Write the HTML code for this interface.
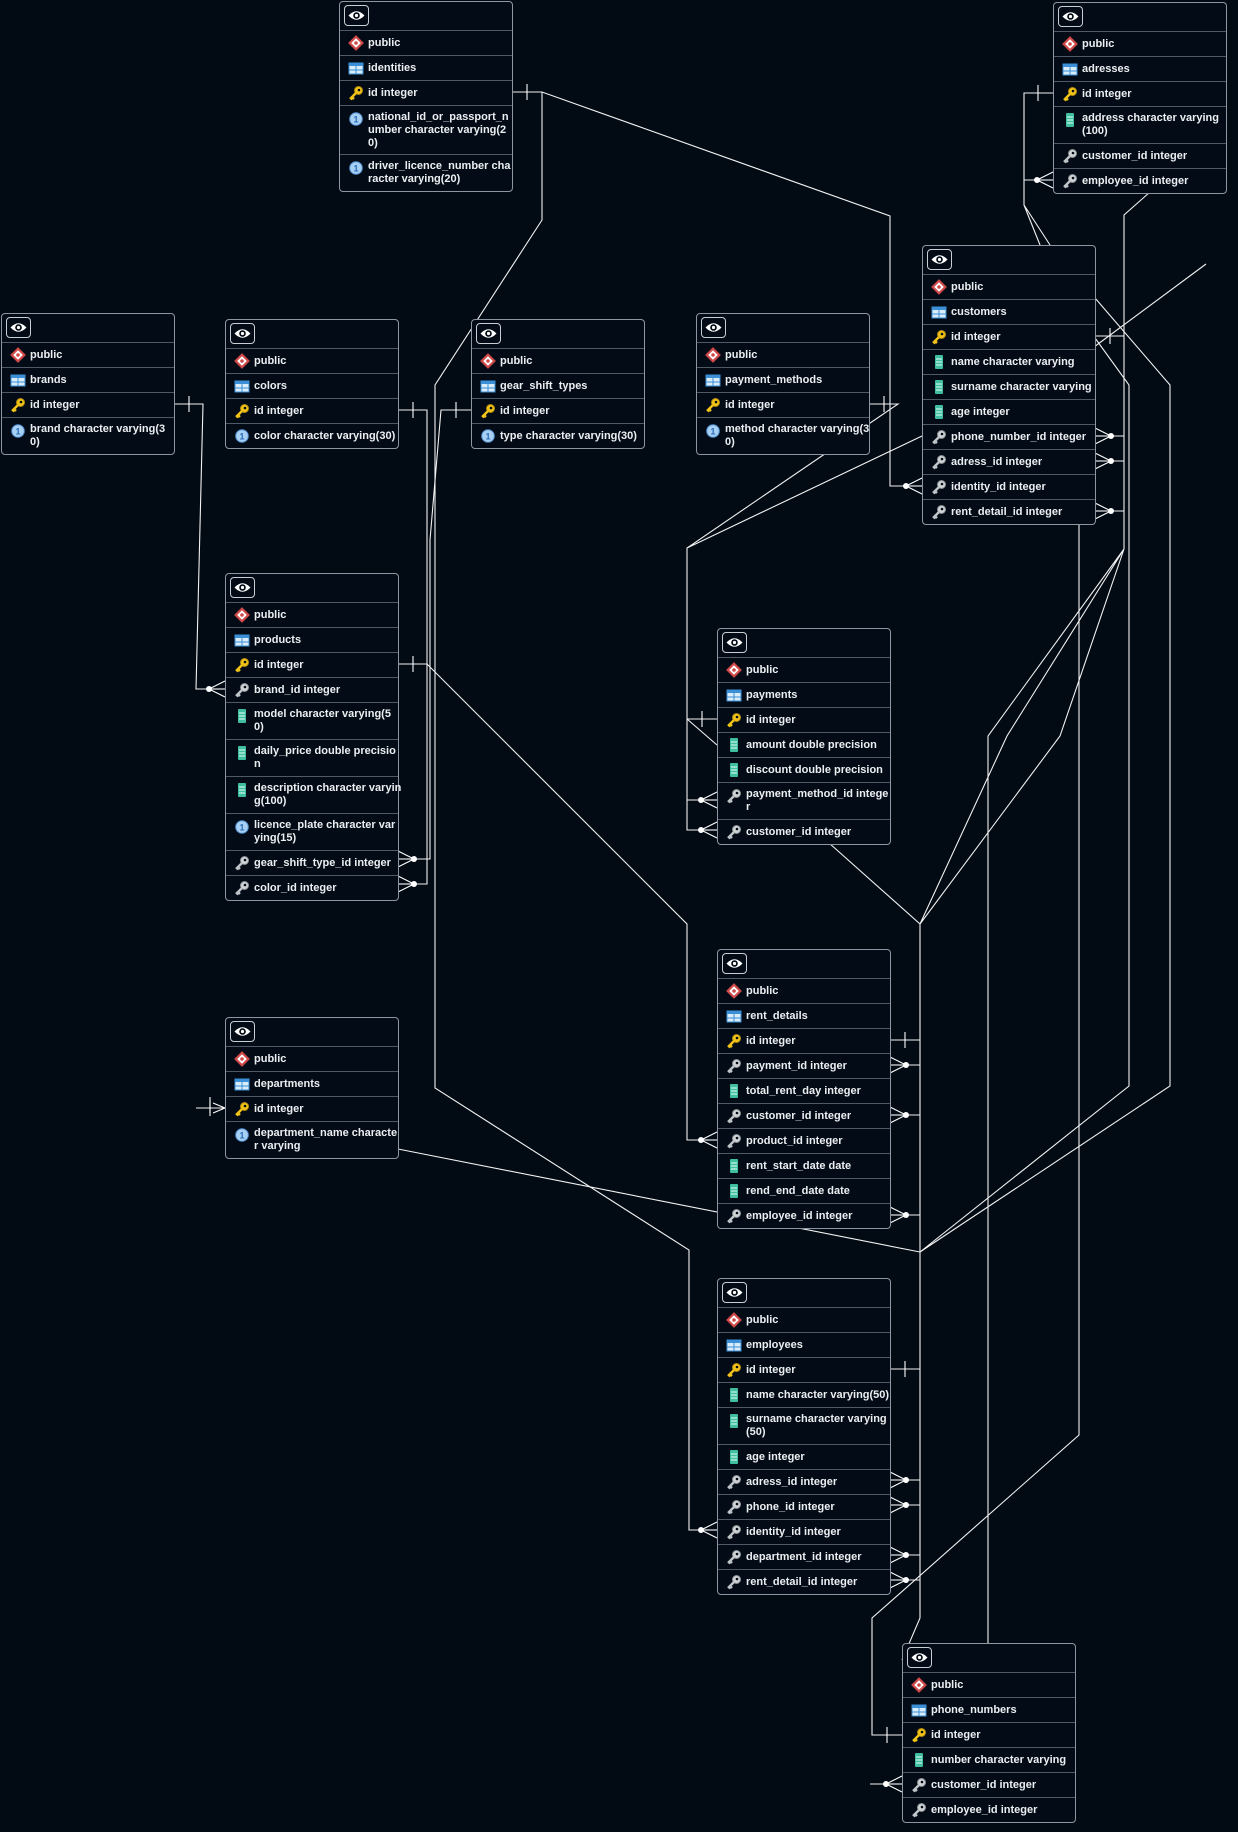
<!DOCTYPE html>
<html><head><meta charset="utf-8">
<style>
html,body{margin:0;padding:0;background:#020a13;}
body{width:1238px;height:1832px;position:relative;overflow:hidden;font-family:"Liberation Sans",Arial,sans-serif;}
svg.lines{position:absolute;left:0;top:0;}
.box{position:absolute;width:174px;box-sizing:border-box;border:1px solid #8c97a3;border-radius:4px;background:#030c16;}
.hdr{height:28px;position:relative;}
.eye{position:absolute;left:4px;top:3px;width:25px;height:21px;border:1px solid #c9ced4;border-radius:4px;box-sizing:border-box;}
.row{position:relative;border-top:1px solid #4f5a66;color:#eceff2;font-size:11px;font-weight:bold;}
.row .ic{position:absolute;left:8px;width:16px;height:16px;}
.row .tx{position:absolute;left:28px;right:4px;white-space:nowrap;}
</style></head><body>
<svg class="lines" width="1238" height="1832" viewBox="0 0 1238 1832" id="lines">
<g fill="none" stroke="#f2f2f2" stroke-width="1.1">
<path d="M512,92 H542 L890,216 V486 H922"/>
<path d="M542,92 V220 L435,385 V1088 L689,1250 V1530 H717"/>
<path d="M174,404 H203 L196,689 H225"/>
<path d="M398,410 H427 V884 H398"/>
<path d="M471,410 H441 L430,540 V859 H398"/>
<path d="M869,404 H898 L687,548 V830 H717 M687,719 H717 M687,800 H717 M687,719 L717,745 M922,436 L687,548"/>
<path d="M398,664 H427 L687,924 V1140 H717"/>
<path d="M829,843 L920,924 V1618 L902,1660 M890,1040 H920 M890,1065 H920 M890,1115 H920 M890,1215 H920 M890,1369 H920 M890,1480 H920 M890,1505 H920 M890,1555 H920 M890,1580 H920"/>
<path d="M1124,549 L988,736 V1643 M1124,549 L1007,736 L920,924 M1124,549 L1060,736 L920,924"/>
<path d="M1150,192 L1124,215 V549 M1095,336 H1124 M1095,436 H1124 M1095,461 H1124 M1095,511 H1124"/>
<path d="M1095,298 L1170,385 V1086 L920,1252 M1095,338 L1129,385 V1086 L920,1252"/>
<path d="M398,1149 L920,1252"/>
<path d="M1094,347 L1206,264"/>
<path d="M1053,93 H1024 V205 L1040,245 M1024,205 L1050,245 M1024,180 H1053"/>
<path d="M1079,524 V1435 L872,1618 V1735 H902"/>
<path d="M870,1784 H902"/>
<path d="M196,1108 H225"/>
</g>
<g id="marks" fill="#fff" stroke="#fff" stroke-width="1.1"></g>
</svg>
<div id="boxes"></div>
<script>
(function(){
var NS="http://www.w3.org/2000/svg",mk=document.getElementById('marks');
function ln(x1,y1,x2,y2){var l=document.createElementNS(NS,'line');l.setAttribute('x1',x1);l.setAttribute('y1',y1);l.setAttribute('x2',x2);l.setAttribute('y2',y2);mk.appendChild(l);}
function one(x,y,d){ln(x+d*15,y-8,x+d*15,y+8);}
function many(x,y,d){var px=x+d*16;ln(x,y-8,px,y);ln(x,y+8,px,y);ln(x,y,px,y);var c=document.createElementNS(NS,'circle');c.setAttribute('cx',px);c.setAttribute('cy',y);c.setAttribute('r',3);c.setAttribute('stroke','none');mk.appendChild(c);}
one(512,92,1);many(922,486,-1);many(717,1530,-1);one(174,404,1);many(225,689,-1);
one(398,410,1);many(398,884,1);one(471,410,-1);many(398,859,1);
one(869,404,1);one(717,719,-1);many(717,800,-1);many(717,830,-1);
one(398,664,1);many(717,1140,-1);
one(890,1040,1);many(890,1065,1);many(890,1115,1);many(890,1215,1);
one(890,1369,1);many(890,1480,1);many(890,1505,1);many(890,1555,1);many(890,1580,1);
one(1095,336,1);many(1095,436,1);many(1095,461,1);many(1095,511,1);
one(1053,93,-1);many(1053,180,-1);
one(902,1735,-1);many(902,1784,-1);
one(225,1108,-1);one(225,1105,-1);ln(225,1108,213,1103);ln(225,1108,213,1113);

var IC={
sc:'<svg width="16" height="16"><rect x="3.5" y="3.5" width="9" height="9" transform="rotate(45 8 8)" fill="#fff" stroke="#d04848" stroke-width="2.2"/><circle cx="8" cy="8" r="1.8" fill="#d04848"/></svg>',
tb:'<svg width="16" height="16"><rect x="1" y="3" width="14" height="11" fill="#d9ecfa" stroke="#3a8fd6"/><rect x="1" y="3" width="14" height="3" fill="#3a8fd6"/><line x1="8" y1="6" x2="8" y2="14" stroke="#3a8fd6"/><line x1="1" y1="10" x2="15" y2="10" stroke="#3a8fd6"/></svg>',
pk:'<svg width="16" height="16"><circle cx="10.5" cy="5.5" r="4" fill="#f2c318" stroke="#b08a10"/><circle cx="11" cy="5" r="1.3" fill="#030c16"/><path d="M8,8 L2,14 M4,12 L6,14 M3,13 L4.5,14.5" stroke="#f2c318" stroke-width="2.4" fill="none"/></svg>',
fk:'<svg width="16" height="16"><circle cx="10.5" cy="5.5" r="4" fill="#cfd3d6" stroke="#8a8f93"/><circle cx="11" cy="5" r="1.3" fill="#030c16"/><path d="M8,8 L2,14 M4,12 L6,14 M3,13 L4.5,14.5" stroke="#bfc4c8" stroke-width="2.4" fill="none"/></svg>',
col:'<svg width="16" height="16"><rect x="4" y="1" width="8" height="14" rx="1" fill="#3fbf9f"/><line x1="5" y1="5" x2="11" y2="5" stroke="#e8fff8"/><line x1="5" y1="8" x2="11" y2="8" stroke="#e8fff8"/><line x1="5" y1="11" x2="11" y2="11" stroke="#e8fff8"/></svg>',
u:'<svg width="16" height="16"><circle cx="8" cy="8" r="6.3" fill="#a8d0f5" stroke="#4f8fd0"/><text x="8" y="11.5" font-size="9" font-family="Liberation Sans" font-weight="bold" text-anchor="middle" fill="#2b6cb8">1</text></svg>'
};
var eye='<svg width="23" height="19" style="position:absolute;left:0;top:0"><path d="M3.5,9.5 Q11.5,1 19.5,9.5 Q11.5,18 3.5,9.5Z" fill="#fff"/><circle cx="11.5" cy="9.5" r="3.3" fill="#030c16"/><circle cx="11.5" cy="9.5" r="1.6" fill="#fff"/></svg>';
var B=[
[339,1,'identities',[['pk','id integer'],['u','national_id_or_passport_n<br>umber character varying(2<br>0)'],['u','driver_licence_number cha<br>racter varying(20)']]],
[1053,2,'adresses',[['pk','id integer'],['col','address character varying<br>(100)'],['fk','customer_id integer'],['fk','employee_id integer']]],
[1,313,'brands',[['pk','id integer'],['u','brand character varying(3<br>0)']]],
[225,319,'colors',[['pk','id integer'],['u','color character varying(30)']]],
[471,319,'gear_shift_types',[['pk','id integer'],['u','type character varying(30)']]],
[696,313,'payment_methods',[['pk','id integer'],['u','method character varying(3<br>0)']]],
[922,245,'customers',[['pk','id integer'],['col','name character varying'],['col','surname character varying'],['col','age integer'],['fk','phone_number_id integer'],['fk','adress_id integer'],['fk','identity_id integer'],['fk','rent_detail_id integer']]],
[225,573,'products',[['pk','id integer'],['fk','brand_id integer'],['col','model character varying(5<br>0)'],['col','daily_price double precisio<br>n'],['col','description character varyin<br>g(100)'],['u','licence_plate character var<br>ying(15)'],['fk','gear_shift_type_id integer'],['fk','color_id integer']]],
[717,628,'payments',[['pk','id integer'],['col','amount double precision'],['col','discount double precision'],['fk','payment_method_id intege<br>r'],['fk','customer_id integer']]],
[717,949,'rent_details',[['pk','id integer'],['fk','payment_id integer'],['col','total_rent_day integer'],['fk','customer_id integer'],['fk','product_id integer'],['col','rent_start_date date'],['col','rend_end_date date'],['fk','employee_id integer']]],
[225,1017,'departments',[['pk','id integer'],['u','department_name characte<br>r varying']]],
[717,1278,'employees',[['pk','id integer'],['col','name character varying(50)'],['col','surname character varying<br>(50)'],['col','age integer'],['fk','adress_id integer'],['fk','phone_id integer'],['fk','identity_id integer'],['fk','department_id integer'],['fk','rent_detail_id integer']]],
[902,1643,'phone_numbers',[['pk','id integer'],['col','number character varying'],['fk','customer_id integer'],['fk','employee_id integer']]]
];
var h='';
B.forEach(function(b){
 var rows=[['sc','public'],['tb',b[2]]].concat(b[3]);
 h+='<div class="box" style="left:'+b[0]+'px;top:'+b[1]+'px"><div class="hdr"><div class="eye">'+eye+'</div></div>';
 rows.forEach(function(r){
  var n=r[1].split('<br>').length, ht=n==1?24:(n==2?36:48);
  var tx=n==1?'top:0;line-height:24px':'top:5px;line-height:13px';
  var it=n==1?4:5;
  h+='<div class="row" style="height:'+ht+'px"><div class="ic" style="top:'+it+'px">'+IC[r[0]]+'</div><div class="tx" style="'+tx+'">'+r[1]+'</div></div>';
 });
 h+='</div>';
});
document.getElementById('boxes').innerHTML=h;
})();
</script>
</body></html>
